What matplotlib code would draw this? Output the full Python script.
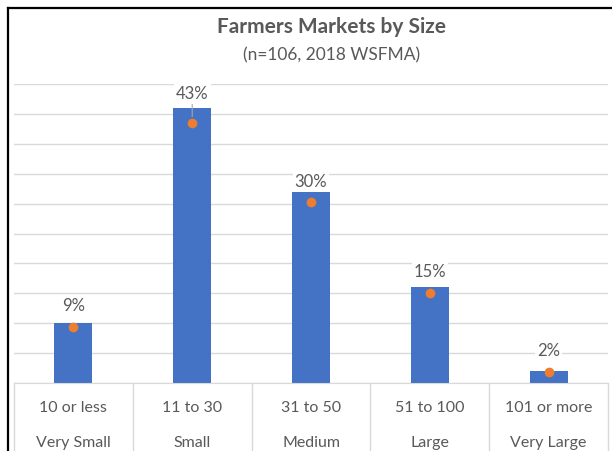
import matplotlib

matplotlib.use("Agg")
import matplotlib.pyplot as plt  # noqa: E402
from matplotlib.lines import Line2D  # noqa: E402
from matplotlib.transforms import blended_transform_factory  # noqa: E402

plt.rcParams["font.family"] = ["Lato", "DejaVu Sans"]

# --------------------------------------------------------------------------- #
# Data (2018 WSFMA survey, n=106)
# --------------------------------------------------------------------------- #
size_ranges = ["10 or less", "11 to 30", "31 to 50", "51 to 100", "101 or more"]
size_names = ["Very Small", "Small", "Medium", "Large", "Very Large"]
market_counts = [10, 46, 32, 16, 2]
market_pct = [9.4, 43.4, 30.2, 15.1, 1.9]

BLUE = "#4472C4"
ORANGE = "#ED7D31"
TEXT = "#595959"
GRID = "#D9D9D9"

fig = plt.figure(figsize=(6.12, 4.51), dpi=100)
ax = fig.add_axes([0.0229, 0.1508, 0.9706, 0.6629])

x = list(range(len(size_ranges)))
ax.bar(x, market_counts, width=0.32, color=BLUE, zorder=2)
ax.plot(x, market_pct, "o", color=ORANGE, markersize=6, zorder=3)

# percentage labels sit above the dots; the tall one gets a leader line
for i, v in enumerate(market_pct):
    lift = 21 if i == 1 else 15
    arrow = dict(arrowstyle="-", color="#A6A6A6", lw=0.8,
                 shrinkA=0, shrinkB=5) if i == 1 else None
    ax.annotate(f"{v:.0f}%", (i, v), xytext=(0, lift),
                textcoords="offset points", ha="center", va="center",
                fontsize=12, color=TEXT, zorder=4, arrowprops=arrow,
                bbox=dict(fc="white", ec="none", pad=1.5))

ax.set_xlim(-0.5, len(size_ranges) - 0.5)
ax.set_ylim(0, 50)
ax.set_yticks(range(0, 51, 5))
ax.yaxis.grid(True, color=GRID, lw=1, zorder=0)
ax.tick_params(left=False, bottom=False, labelleft=False, labelbottom=False)
for side in ("left", "right", "top"):
    ax.spines[side].set_visible(False)
ax.spines["bottom"].set_color(GRID)

# two-row category table under the axis
trans = blended_transform_factory(ax.transData, ax.transAxes)
for b in range(len(size_ranges) + 1):
    ax.plot([b - 0.5, b - 0.5], [0, -0.3], color=GRID, lw=1,
            transform=trans, clip_on=False)
for i in x:
    ax.text(i, -0.084, size_ranges[i], transform=trans, ha="center",
            va="center", fontsize=11.5, color=TEXT)
    ax.text(i, -0.2, size_names[i], transform=trans, ha="center",
            va="center", fontsize=11.5, color=TEXT)

fig.text(0.541, 0.94, "Farmers Markets by Size", ha="center", va="center",
         fontsize=15, fontweight="bold", color=TEXT)
fig.text(0.541, 0.878, "(n=106, 2018 WSFMA)", ha="center", va="center",
         fontsize=12.5, color=TEXT)

# chart frame (cropped on the right and bottom)
y_top = 1 - 8 / 451
x_left = 8 / 612
fig.add_artist(Line2D([x_left, x_left], [0, y_top], color="black", lw=1.6))
fig.add_artist(Line2D([x_left, 1], [y_top, y_top], color="black", lw=1.6))

fig.savefig("out.png", dpi=100)
